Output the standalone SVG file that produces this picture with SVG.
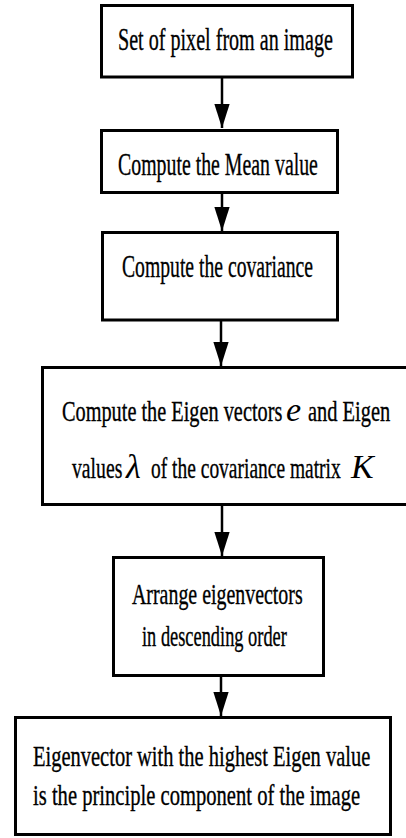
<svg xmlns="http://www.w3.org/2000/svg" width="406" height="838" viewBox="0 0 406 838">
<style>
.box{fill:#fff;stroke:#000;stroke-width:3}
.t{font-family:"Liberation Serif","Times New Roman",serif;fill:#000;stroke:#000;stroke-width:0.35}
.m{font-family:"Liberation Serif","Times New Roman",serif;font-style:italic;fill:#000;font-size:34px}
.c{stroke:#000;stroke-width:2.5;fill:none}
</style>
<defs>
<marker id="ah" markerUnits="userSpaceOnUse" markerWidth="16" markerHeight="24" refX="7" refY="22" orient="0" viewBox="0 0 14 22">
<path d="M0,0 L14,0 L7,22 Z" fill="#000"/>
</marker>
</defs>
<rect width="406" height="838" fill="#fff"/>
<g id="connectors">
<line class="c" x1="222" y1="78" x2="222" y2="128" marker-end="url(#ah)"/>
<line class="c" x1="222" y1="193" x2="222" y2="231" marker-end="url(#ah)"/>
<line class="c" x1="221" y1="321" x2="221" y2="366" marker-end="url(#ah)"/>
<line class="c" x1="222" y1="505" x2="222" y2="556" marker-end="url(#ah)"/>
<line class="c" x1="221" y1="676" x2="221" y2="716" marker-end="url(#ah)"/>
</g>
<g id="n1">
<rect class="box" x="101.5" y="5.5" width="251" height="71.5"/>
<text class="t" transform="translate(118,50) scale(0.68,1)" font-size="32" textLength="316" lengthAdjust="spacingAndGlyphs">Set of pixel from an image</text>
</g>
<g id="n2">
<rect class="box" x="101.5" y="130.5" width="236" height="62"/>
<text class="t" transform="translate(118,175) scale(0.68,1)" font-size="32" textLength="294" lengthAdjust="spacingAndGlyphs">Compute the Mean value</text>
</g>
<g id="n3">
<rect class="box" x="102.5" y="232.5" width="235" height="87.5"/>
<text class="t" transform="translate(122,277) scale(0.68,1)" font-size="32" textLength="281" lengthAdjust="spacingAndGlyphs">Compute the covariance</text>
</g>
<g id="n4">
<rect class="box" x="42.5" y="367.5" width="366" height="137"/>
<text class="t" transform="translate(62,421) scale(0.68,1)" font-size="30" textLength="324" lengthAdjust="spacingAndGlyphs">Compute the Eigen vectors</text>
<text class="m" x="286" y="421">e</text>
<text class="t" transform="translate(308,421) scale(0.68,1)" font-size="30" textLength="121" lengthAdjust="spacingAndGlyphs">and Eigen</text>
<text class="t" transform="translate(72,478) scale(0.68,1)" font-size="30" textLength="74" lengthAdjust="spacingAndGlyphs">values</text>
<text class="m" x="126" y="478">λ</text>
<text class="t" transform="translate(151,478) scale(0.68,1)" font-size="30" textLength="279" lengthAdjust="spacingAndGlyphs">of the covariance matrix</text>
<text class="m" x="351" y="478">K</text>
</g>
<g id="n5">
<rect class="box" x="113.5" y="557.5" width="210" height="118"/>
<text class="t" transform="translate(132,604) scale(0.68,1)" font-size="30" textLength="251" lengthAdjust="spacingAndGlyphs">Arrange eigenvectors</text>
<text class="t" transform="translate(142,646) scale(0.68,1)" font-size="30" textLength="213" lengthAdjust="spacingAndGlyphs">in descending order</text>
</g>
<g id="n6">
<rect class="box" x="15.5" y="717.5" width="375" height="117"/>
<text class="t" transform="translate(33,766) scale(0.68,1)" font-size="30" textLength="496" lengthAdjust="spacingAndGlyphs">Eigenvector with the highest Eigen value</text>
<text class="t" transform="translate(33,805) scale(0.68,1)" font-size="30" textLength="481" lengthAdjust="spacingAndGlyphs">is the principle component of the image</text>
</g>
</svg>
